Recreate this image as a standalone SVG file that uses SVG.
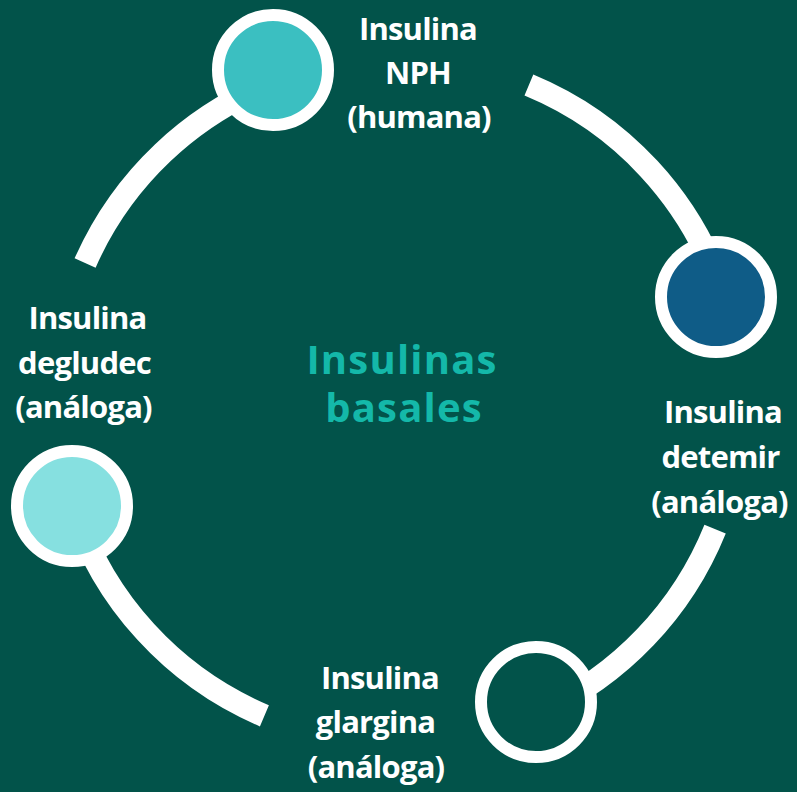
<svg xmlns="http://www.w3.org/2000/svg" width="797" height="792" viewBox="0 0 797 792">
<style>
.ring{fill:none;stroke:#ffffff;stroke-width:23;stroke-linecap:butt}
.node{stroke:#ffffff;stroke-width:12}
.lbl{font-family:"Open Sans","Liberation Sans",sans-serif;font-weight:700;font-size:31px;fill:#ffffff;text-anchor:middle;letter-spacing:-0.8px}
.title{font-family:"Open Sans","Liberation Sans",sans-serif;font-weight:700;font-size:40px;fill:#14B8A9;text-anchor:middle;letter-spacing:1.2px}
</style>
<rect x="0" y="0" width="797" height="792" fill="#02534A"/>
<g id="connectors">
<path class="ring" d="M85.1,263 A342,342 0 0 1 277.1,81.1"/>
<path class="ring" d="M528.9,85 A342,342 0 0 1 723.1,294.7"/>
<path class="ring" d="M715.1,529.1 A342,342 0 0 1 540.4,712"/>
<path class="ring" d="M264.4,715.8 A342,342 0 0 1 72.6,506.1"/>
</g>
<g id="center">
<text class="title" x="402" y="374">Insulinas</text>
<text class="title" x="404" y="422">basales</text>
</g>
<g id="nph">
<circle class="node" cx="273" cy="70" r="55" fill="#3BBFC1"/>
<text class="lbl" x="418" y="40">Insulina</text>
<text class="lbl" x="418" y="84">NPH</text>
<text class="lbl" x="419" y="128">(humana)</text>
</g>
<g id="detemir">
<circle class="node" cx="716" cy="297" r="55" fill="#0F5C87"/>
<text class="lbl" x="723" y="423">Insulina</text>
<text class="lbl" x="720.5" y="468">detemir</text>
<text class="lbl" x="719.5" y="513">(análoga)</text>
</g>
<g id="glargina">
<circle class="node" cx="536" cy="702" r="55" fill="#02534A"/>
<text class="lbl" x="380" y="689">Insulina</text>
<text class="lbl" x="375.5" y="733">glargina</text>
<text class="lbl" x="376" y="778">(análoga)</text>
</g>
<g id="degludec">
<circle class="node" cx="72" cy="506" r="55" fill="#86E0E0"/>
<text class="lbl" x="87.5" y="329">Insulina</text>
<text class="lbl" x="84.5" y="374">degludec</text>
<text class="lbl" x="83.5" y="418">(análoga)</text>
</g>
</svg>
